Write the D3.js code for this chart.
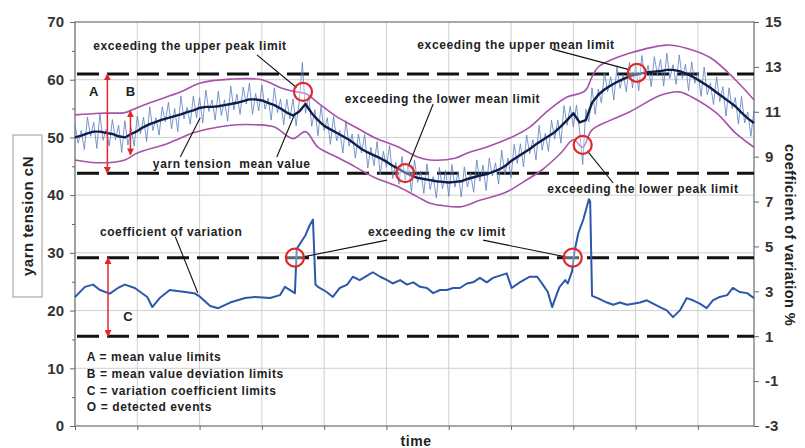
<!DOCTYPE html>
<html>
<head>
<meta charset="utf-8">
<script src="https://cdn.jsdelivr.net/npm/d3@7"></script>
<style>
  body { margin: 0; background: #fff; }
  svg { display: block; font-family: "Liberation Sans", Arial, sans-serif; }
</style>
</head>
<body>
<script>
// yarn tension (cN), sampled every 0.5 time units from 0 to 109
const tensionValues = [
  52.3,49.0,51.2,47.9,53.5,50.2,52.6,48.1,54.1,49.5,51.4,48.5,53.1,49.6,52.1,47.4,52.9,48.7,51.7,48.5,
  53.7,50.6,53.5,49.3,55.3,51.2,53.4,50.4,55.3,52.7,56.1,51.5,55.0,51.0,57.2,53.2,55.2,52.3,57.2,53.4,
  56.9,52.5,58.2,54.5,56.5,53.0,58.0,53.8,56.5,52.8,58.9,54.8,57.5,54.0,58.7,55.8,59.4,54.0,57.6,54.6,
  59.1,54.9,56.8,53.0,58.6,54.3,56.6,52.2,56.6,53.2,56.7,52.0,56.3,63.0,54.2,57.4,51.9,54.8,50.3,55.4,
  51.2,53.4,48.8,53.7,49.4,51.2,47.3,52.9,48.5,50.6,46.4,50.6,47.3,50.5,44.7,48.3,45.1,49.3,43.5,47.6,
  44.8,48.6,42.9,45.7,41.9,46.7,42.6,45.5,40.6,46.1,42.2,44.2,40.3,45.4,41.0,43.2,39.5,44.8,41.1,44.3,
  39.8,45.3,41.4,44.0,39.7,44.9,41.4,43.8,40.5,46.1,42.4,45.2,40.8,46.4,43.3,45.6,41.9,47.8,43.5,46.4,
  43.0,48.8,45.5,48.9,44.9,50.4,47.2,49.6,46.1,52.1,47.8,50.7,47.6,53.0,49.7,53.0,49.0,55.5,52.1,55.4,
  51.8,55.6,51.3,45.3,54.9,52.7,58.6,54.0,58.4,56.0,61.3,57.9,60.5,56.5,62.3,58.5,60.9,57.9,63.0,58.6,
  62.6,58.1,64.2,60.2,62.5,58.8,64.0,60.8,63.5,58.9,64.6,60.2,62.6,59.2,64.3,60.2,62.7,58.1,63.1,59.4,
  61.3,57.1,62.2,57.4,59.4,55.7,60.5,56.2,58.8,53.7,58.6,55.0,56.9,52.3,57.1,52.5,54.4,50.2,54.7
];
const tensionStep = 0.5;

// moving mean value (cN), one value per time unit 0..109
const meanValues = [
  50.0,50.3,50.7,51.0,51.0,50.8,50.6,50.2,50.0,50.6,51.1,51.8,52.3,52.7,53.1,53.4,53.7,54.0,54.4,54.7,
  55.1,55.3,55.3,55.4,55.6,55.8,56.0,56.3,56.6,56.6,56.4,56.0,55.6,55.0,54.3,53.8,54.5,55.8,54.2,53.0,
  52.0,51.4,50.8,50.2,49.6,48.8,48.0,47.4,46.9,46.4,45.8,45.1,44.5,43.9,43.4,43.0,42.8,42.6,42.4,42.3,
  42.2,42.3,42.4,42.8,43.1,43.4,43.6,44.0,44.4,45.0,45.9,46.6,47.3,48.0,48.8,49.5,50.2,50.9,51.9,53.0,
  54.2,52.6,53.0,56.0,57.4,58.3,59.0,59.6,60.1,60.6,60.9,61.1,61.3,61.4,61.5,61.7,61.7,61.5,61.1,60.6,
  60.0,59.3,58.6,57.8,57.0,56.2,55.4,54.3,53.3,52.5
];

// mean value deviation limits (cN)
const upperTime = [0,4,8,9,12,17,20,25,30,33,35,37,39,42,45,48,52,55,57,61,63,66,70,73,76,79,81,82,83,84,86,89,95,98,102,106,109];
const upperValues = [53.9,54.2,54.3,54.7,56.0,57.9,59.4,60.1,60.0,58.6,58.0,57.6,56.0,53.6,51.8,50.0,48.3,46.6,46.1,46.4,47.3,48.3,50.0,51.8,54.7,57.0,57.6,58.2,60.5,62.2,63.4,64.6,66.0,65.5,63.8,60.0,56.5];
const lowerTime = [0,4,8,10,15,19,22,26,29,32,35,37,39,42,45,48,52,55,57,59,62,65,69,72,75,78,80,81.5,83,86,89,94,97,99,103,106,109];
const lowerValues = [46.1,45.6,46.1,47.3,49.0,50.8,51.6,52.2,52.2,51.8,49.8,51.0,48.3,46.6,44.9,43.1,41.4,39.7,38.6,38.2,38.0,39.1,40.4,42.3,44.4,47.3,49.6,48.3,51.3,53.0,54.4,57.3,57.9,57.0,54.2,50.8,48.3];

// coefficient of variation (%)
const cvTime = [0,1.6,2.9,4,5.6,6.9,8,9.6,11.6,12.4,13.6,15.2,17.7,19.3,20.1,21.7,23,24.9,27.3,28.9,31.3,32.9,33.7,35.3,35.6,36.3,37,37.6,38.2,38.6,
  39,40.4,41.4,42.5,43.7,44.6,45.7,46.9,47.8,49,50.1,51,52.2,53.3,54.3,55.4,56.5,57.5,58.6,59.7,60.7,61.8,62.9,63.9,65,66.1,67.1,68.2,69.3,70.1,
  71.4,73,74.2,75.1,75.9,76.6,77.4,77.8,78.7,79.1,79.8,80.2,80.8,81.6,82.5,82.7,83,83.9,85.4,86.4,87.5,88.6,89.6,90.7,91.8,92.8,93.9,95,96,97.1,
  98.2,99.2,100.3,101.4,102.4,103.5,104.7,105.6,106.7,107.9,109];
const cvValues = [2.75,3.2,3.3,3.06,2.9,3.15,3.3,3.15,2.75,2.3,2.7,3.06,2.97,2.9,2.75,2.35,2.25,2.5,2.7,2.75,2.7,2.83,3.2,2.92,4.9,5.2,5.5,5.9,6.2,3.3,
  3.2,2.97,2.75,3.15,3.3,3.65,3.5,3.7,3.85,3.65,3.5,3.35,3.5,3.3,3.4,3.2,3.15,2.92,3.06,3.06,3.15,3.15,3.35,3.4,3.6,3.4,3.6,3.7,3.8,3.15,
  3.4,3.65,3.65,3.3,2.97,2.3,2.92,3.2,3.5,3.35,3.9,4.8,5.6,6.2,7.1,7.0,2.8,2.7,2.5,2.4,2.5,2.4,2.45,2.5,2.6,2.45,2.3,2.15,1.85,2.15,
  2.7,2.6,2.45,2.25,2.6,2.75,2.83,3.15,2.97,2.92,2.7];

// limits
const meanLimits = [61.0, 43.8];   // A, cN
const cvLimits = [4.5, 1.0];       // C, %

// detected events: [time, value, axis]
const events = [
  [36.6, 57.9, "L"], [53.0, 43.8, "L"], [90.2, 61.2, "L"], [81.5, 48.7, "L"],
  [35.3, 4.5, "R"], [79.9, 4.5, "R"]
];

const leftTicks = [0, 10, 20, 30, 40, 50, 60, 70];
const rightTicks = [-3, -1, 1, 3, 5, 7, 9, 11, 13, 15];
const timeGrid = [0, 10, 20, 30, 40, 50, 60, 70, 80, 90, 100];

const width = 805, height = 448;
const x = d3.scaleLinear([0, 109], [75, 754]);
const yL = d3.scaleLinear([0, 70], [426, 22]);
const yR = d3.scaleLinear([-3, 15], [426, 22]);

const svg = d3.select("body").append("svg")
  .attr("width", width).attr("height", height)
  .attr("viewBox", [0, 0, width, height]);

const red = "#e3262d";
svg.append("defs").append("marker")
  .attr("id", "head").attr("viewBox", "0 0 10 10")
  .attr("refX", 9).attr("refY", 5)
  .attr("markerWidth", 7).attr("markerHeight", 7)
  .attr("markerUnits", "userSpaceOnUse")
  .attr("orient", "auto-start-reverse")
  .append("path").attr("d", "M0,0L10,5L0,10Z").attr("fill", red);

// grid
svg.append("g").selectAll("line").data(timeGrid).join("line")
  .attr("x1", d => x(d)).attr("x2", d => x(d))
  .attr("y1", yL(0)).attr("y2", yL(70))
  .attr("stroke", "#cfcfcf").attr("stroke-width", 1);
svg.append("g").selectAll("line").data(leftTicks.slice(1, -1)).join("line")
  .attr("x1", x(0)).attr("x2", x(109))
  .attr("y1", d => yL(d)).attr("y2", d => yL(d))
  .attr("stroke", "#cfcfcf").attr("stroke-width", 1);

// frame
svg.append("rect")
  .attr("x", x(0)).attr("y", yL(70))
  .attr("width", x(109) - x(0)).attr("height", yL(0) - yL(70))
  .attr("fill", "none").attr("stroke", "#8a8a8a").attr("stroke-width", 1.5);

// axes
const styleAxis = g => {
  g.select(".domain").remove();
  g.selectAll(".tick line").attr("stroke", "#666");
  g.selectAll(".tick text")
    .attr("font-size", 15).attr("font-weight", "bold").attr("fill", "#333")
    .attr("font-family", "Liberation Sans, Arial, sans-serif");
};
svg.append("g").attr("transform", `translate(${x(0)},0)`)
  .call(d3.axisLeft(yL).tickValues(leftTicks).tickSize(5).tickPadding(6))
  .call(styleAxis);
svg.append("g").attr("transform", `translate(${x(0)},0)`)
  .call(d3.axisLeft(yL).tickValues([5, 15, 25, 35, 45, 55, 65]).tickSize(3).tickFormat(""))
  .call(styleAxis);
svg.append("g").attr("transform", `translate(${x(109)},0)`)
  .call(d3.axisRight(yR).tickValues(rightTicks).tickSize(5).tickPadding(6).tickFormat(d => String(d)))
  .call(styleAxis);
svg.append("g").attr("transform", `translate(0,${yL(0)})`)
  .call(d3.axisBottom(x).tickValues(timeGrid).tickSize(4).tickFormat(""))
  .call(styleAxis);

// limit lines
const dash = (sel, scale) => sel
  .attr("x1", x(0) + 2).attr("x2", x(109))
  .attr("y1", d => scale(d)).attr("y2", d => scale(d))
  .attr("stroke", "#111").attr("stroke-width", 3).attr("stroke-dasharray", "22,8");
svg.append("g").selectAll("line").data(meanLimits).join("line").call(dash, yL);
svg.append("g").selectAll("line").data(cvLimits).join("line").call(dash, yR);

// yarn tension raw signal
const tensionLine = d3.line().x((d, i) => x(i * tensionStep)).y(d => yL(d));
svg.append("path").datum(tensionValues)
  .attr("d", tensionLine)
  .attr("fill", "none").attr("stroke", "#5a80c2").attr("stroke-width", 0.9).attr("opacity", 0.9);

// envelopes
const envLine = d3.line().curve(d3.curveCatmullRom).x(d => x(d[0])).y(d => yL(d[1]));
svg.append("path").datum(d3.zip(upperTime, upperValues))
  .attr("d", envLine).attr("fill", "none").attr("stroke", "#a652a8").attr("stroke-width", 1.6);
svg.append("path").datum(d3.zip(lowerTime, lowerValues))
  .attr("d", envLine).attr("fill", "none").attr("stroke", "#a652a8").attr("stroke-width", 1.6);

// mean value
svg.append("path").datum(meanValues)
  .attr("d", d3.line().x((d, i) => x(i)).y(d => yL(d)))
  .attr("fill", "none").attr("stroke", "#0e1d4a").attr("stroke-width", 2.4)
  .attr("stroke-linejoin", "round");

// coefficient of variation
svg.append("path").datum(d3.zip(cvTime, cvValues))
  .attr("d", d3.line().x(d => x(d[0])).y(d => yR(d[1])))
  .attr("fill", "none").attr("stroke", "#2c58aa").attr("stroke-width", 2)
  .attr("stroke-linejoin", "round");

// leader lines (time, value on left axis)
const leaders = [
  [29.2, 64.3, 35.6, 58.6], [76.6, 65.3, 89.1, 61.7], [57.5, 55.8, 53.5, 45.0],
  [16.9, 46.6, 20.1, 53.4], [32.4, 46.6, 35.2, 53.9], [86.4, 42.1, 82.2, 47.7],
  [16.1, 32.8, 19.7, 23.1], [50.1, 32.2, 36.6, 29.3], [65.5, 32.2, 78.8, 29.3]
];
svg.append("g").selectAll("line").data(leaders).join("line")
  .attr("x1", d => x(d[0])).attr("y1", d => yL(d[1]))
  .attr("x2", d => x(d[2])).attr("y2", d => yL(d[3]))
  .attr("stroke", "#111").attr("stroke-width", 1.1);

// event circles
svg.append("g").selectAll("circle").data(events).join("circle")
  .attr("cx", d => x(d[0]))
  .attr("cy", d => d[2] === "L" ? yL(d[1]) : yR(d[1]))
  .attr("r", 9)
  .attr("fill", "rgba(255,255,255,0.35)")
  .attr("stroke", red).attr("stroke-width", 2.2);

// range arrows
const arrows = [
  [5.2, yL(meanLimits[0]), yL(meanLimits[1])],
  [8.9, yL(54.6), yL(47.0)],
  [5.3, yR(cvLimits[0]), yR(cvLimits[1])]
];
svg.append("g").selectAll("line").data(arrows).join("line")
  .attr("x1", d => x(d[0])).attr("x2", d => x(d[0]))
  .attr("y1", d => d[1]).attr("y2", d => d[2])
  .attr("stroke", red).attr("stroke-width", 1.5)
  .attr("marker-start", "url(#head)").attr("marker-end", "url(#head)");

// text annotations: [text, time, value, anchor, size]
const notes = [
  ["exceeding the upper peak limit", 18.46, 65.16, "middle", 12],
  ["exceeding the upper mean limit", 70.8, 65.3, "middle", 12],
  ["exceeding the lower mean limit", 59.0, 55.97, "middle", 12],
  ["yarn tension  mean value", 12.5, 44.7, "start", 12],
  ["exceeding the lower peak limit", 75.8, 40.4, "start", 12],
  ["coefficient of variation", 4.0, 33.0, "start", 12],
  ["exceeding the cv limit", 58.1, 32.9, "middle", 12],
  ["A", 3.0, 57.2, "middle", 13],
  ["B", 8.9, 57.2, "middle", 13],
  ["C", 8.5, 18.2, "middle", 13],
  ["A = mean value limits", 1.9, 11.26, "start", 12],
  ["B = mean value deviation limits", 1.9, 8.32, "start", 12],
  ["C = variation coefficient limits", 1.9, 5.37, "start", 12],
  ["O = detected events", 1.9, 2.6, "start", 12]
];
svg.append("g").selectAll("text").data(notes).join("text")
  .attr("x", d => x(d[1])).attr("y", d => yL(d[2]))
  .attr("text-anchor", d => d[3])
  .attr("font-size", d => d[4]).attr("font-weight", "bold").attr("fill", "#222")
  .attr("letter-spacing", d => d[0].length > 1 ? 0.6 : 0)
  .style("white-space", "pre")
  .text(d => d[0]);

// axis titles
svg.append("rect").attr("x", 13).attr("y", 135).attr("width", 29).attr("height", 162)
  .attr("fill", "#fff").attr("stroke", "#999").attr("stroke-width", 1);
svg.append("text").attr("transform", "translate(33,216) rotate(-90)")
  .attr("text-anchor", "middle").attr("font-size", 15).attr("font-weight", "bold").attr("fill", "#222")
  .attr("letter-spacing", 0.5)
  .text("yarn tension cN");
svg.append("text").attr("transform", "translate(785,235) rotate(90)")
  .attr("text-anchor", "middle").attr("font-size", 14.5).attr("font-weight", "bold").attr("fill", "#222")
  .attr("letter-spacing", 0.4)
  .text("coefficient of variation %");
svg.append("text").attr("x", 416).attr("y", 446)
  .attr("text-anchor", "middle").attr("font-size", 14).attr("font-weight", "bold").attr("fill", "#222")
  .attr("letter-spacing", 0.6)
  .text("time");
</script>
</body>
</html>
